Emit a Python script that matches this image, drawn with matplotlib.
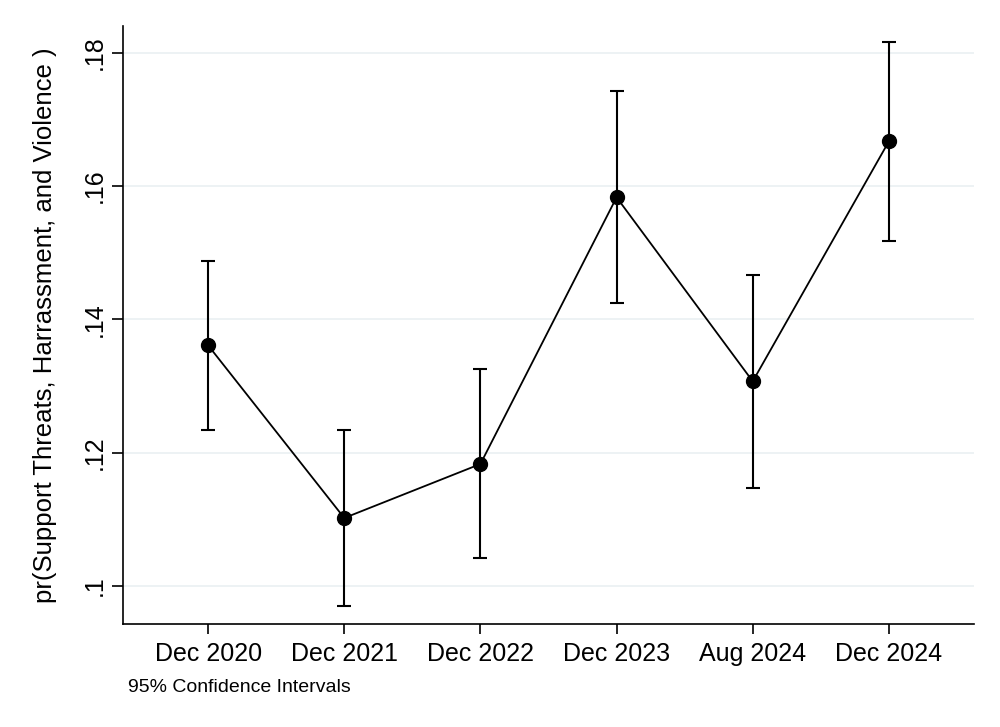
import matplotlib
matplotlib.use("Agg")
import matplotlib.pyplot as plt

categories = ["Dec 2020", "Dec 2021", "Dec 2022", "Dec 2023", "Aug 2024", "Dec 2024"]
estimates = [0.1361, 0.1102, 0.1183, 0.1583, 0.1307, 0.1667]
ci_low = [0.1234, 0.0970, 0.1042, 0.1424, 0.1147, 0.1518]
ci_high = [0.1488, 0.1234, 0.1325, 0.1742, 0.1467, 0.1816]
yticks = [0.10, 0.12, 0.14, 0.16, 0.18]
ytick_labels = [".1", ".12", ".14", ".16", ".18"]

plt.rcParams['font.family'] = ['Liberation Sans', 'DejaVu Sans']

fig = plt.figure(figsize=(10, 7.27), dpi=100)
ax = fig.add_axes([0.123, 1 - 624/727, 0.851, (624 - 26)/727])

x = list(range(len(categories)))
yerr = [[e - l for e, l in zip(estimates, ci_low)], [h - e for e, h in zip(estimates, ci_high)]]
ax.errorbar(x, estimates, yerr=yerr, fmt='none', ecolor='black', elinewidth=1.5,
            capsize=4.7, capthick=1.5, zorder=3)
ax.plot(x, estimates, color='black', lw=1.3, marker='o', markersize=10, zorder=4)

ax.set_xlim(-0.625, 5.625)
ax.set_ylim(0.0943, 0.1840)
ax.set_xticks(x)
ax.set_xticklabels(categories, fontsize=18)
ax.set_yticks(yticks)
ax.set_yticklabels(ytick_labels, fontsize=18, rotation=90, va='center')
ax.grid(axis='y', color='#eaf0f2', lw=1.2, zorder=0)
ax.set_axisbelow(True)
for s in ['top', 'right']:
    ax.spines[s].set_visible(False)
for s in ['left', 'bottom']:
    ax.spines[s].set_linewidth(1.2)
ax.tick_params(axis='y', length=8, width=1.2, pad=4)
ax.tick_params(axis='x', length=7, width=1.2, pad=6)
ax.set_ylabel("pr(Support Threats, Harrassment, and Violence )", fontsize=18.5)
ax.yaxis.set_label_coords(-0.0776, 0.5)

fig.text(0.128, 1 - 688/727, "95% Confidence Intervals", fontsize=14, va='center', ha='left')

fig.savefig("out.png", dpi=100)
